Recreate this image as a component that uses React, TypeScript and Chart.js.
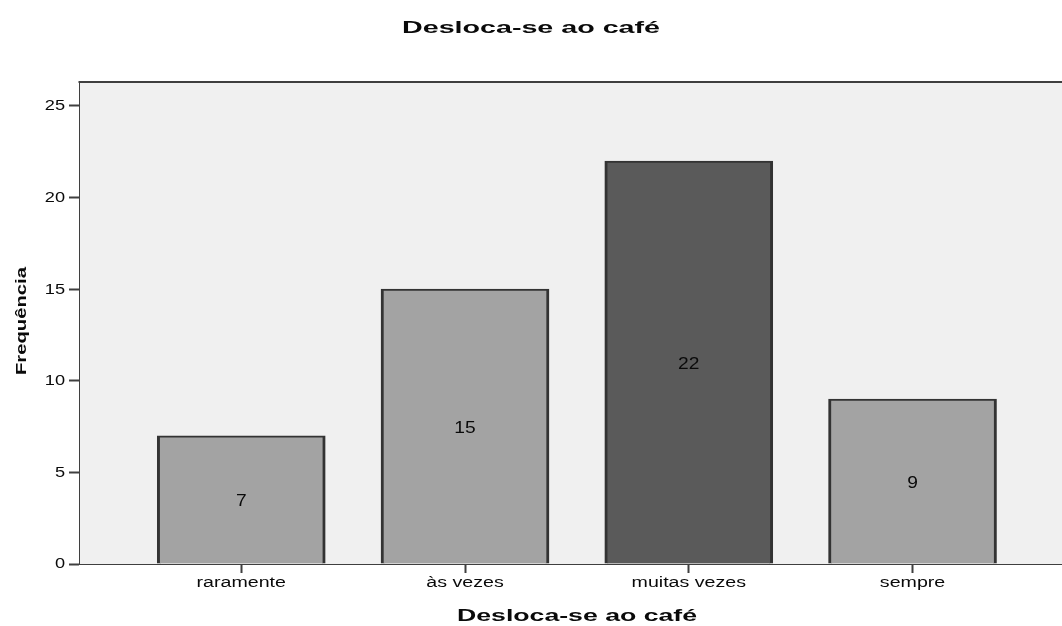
import React, { useEffect, useRef } from "react";
import { Chart, registerables } from "chart.js";

Chart.register(...registerables);

// Frequency table: "Desloca-se ao café"
const categories = ["raramente", "às vezes", "muitas vezes", "sempre"];
const frequencies = [7, 15, 22, 9];
const barShades = ["#a3a3a3", "#a3a3a3", "#5a5a5a", "#a3a3a3"];
const yTickValues = [0, 5, 10, 15, 20, 25];

const chartTitle = "Desloca-se ao café";
const xAxisTitle = "Desloca-se ao café";
const yAxisTitle = "Frequência";

const FONT = '"Liberation Sans", Arial, sans-serif';
const INK = "#0a0a0a";
const LINE = "#3f3f3f";

type Align = "left" | "right" | "center";
type Baseline = "alphabetic" | "middle" | "top" | "bottom";

// Draws text with an independent horizontal / vertical scale (wide type face look)
function drawText(
  ctx: CanvasRenderingContext2D,
  text: string,
  x: number,
  y: number,
  font: string,
  sx: number,
  sy: number,
  align: Align,
  baseline: Baseline,
  rotation = 0
) {
  ctx.save();
  ctx.translate(x, y);
  if (rotation) ctx.rotate(rotation);
  ctx.scale(sx, sy);
  ctx.font = font;
  ctx.fillStyle = INK;
  ctx.textAlign = align;
  ctx.textBaseline = baseline;
  ctx.fillText(text, 0, 0);
  ctx.restore();
}

function fitScale(ctx: CanvasRenderingContext2D, text: string, font: string, width: number) {
  ctx.save();
  ctx.font = font;
  const w = ctx.measureText(text).width;
  ctx.restore();
  return w > 0 ? width / w : 1;
}

const textPlugin = {
  id: "spssText",
  afterDraw(chart: any) {
    const ctx: CanvasRenderingContext2D = chart.ctx;
    const x = chart.scales.x;
    const y = chart.scales.y;
    const area = chart.chartArea;

    // frame line along the top of the plot
    ctx.save();
    ctx.strokeStyle = LINE;
    ctx.lineWidth = 2;
    ctx.beginPath();
    ctx.moveTo(area.left - 1.5, area.top);
    ctx.lineTo(area.right, area.top);
    ctx.stroke();
    ctx.restore();

    // chart title
    const tFont = `bold 16px ${FONT}`;
    drawText(ctx, chartTitle, 531, 32.5, tFont, fitScale(ctx, chartTitle, tFont, 258), 1, "center", "alphabetic");

    // x axis title
    drawText(ctx, xAxisTitle, 577, 621, tFont, fitScale(ctx, xAxisTitle, tFont, 240), 1, "center", "alphabetic");

    // y axis title, rotated
    const yFont = `bold 15px ${FONT}`;
    drawText(ctx, yAxisTitle, 26, 321, yFont, fitScale(ctx, yAxisTitle, yFont, 108), 1, "center", "alphabetic", -Math.PI / 2);

    // category labels
    categories.forEach((c, i) => {
      drawText(ctx, c, x.getPixelForValue(i), 587, `14px ${FONT}`, 1.4, 1, "center", "alphabetic");
    });

    // value ticks
    yTickValues.forEach((v) => {
      drawText(ctx, String(v), 65, y.getPixelForValue(v) + 0.5, `14px ${FONT}`, 1.3, 1, "right", "middle");
    });

    // bar values, centred in each bar
    frequencies.forEach((v, i) => {
      const mid = (y.getPixelForValue(v) + y.getPixelForValue(0)) / 2;
      drawText(ctx, String(v), x.getPixelForValue(i), mid + 2, `16px ${FONT}`, 1.2, 1, "center", "middle");
    });
  },
};

const plotBackground = {
  id: "plotBackground",
  beforeDatasetsDraw(chart: any) {
    const { ctx, chartArea } = chart;
    ctx.save();
    ctx.fillStyle = "#f0f0f0";
    ctx.fillRect(chartArea.left, chartArea.top, chartArea.right - chartArea.left, chartArea.bottom - chartArea.top);
    ctx.restore();
  },
};

export default function App() {
  const canvasRef = useRef<HTMLCanvasElement | null>(null);

  useEffect(() => {
    if (!canvasRef.current) return;
    const chart = new Chart(canvasRef.current, {
      type: "bar",
      data: {
        datasets: [
          {
            data: frequencies.map((v, i) => ({ x: i, y: v })),
            backgroundColor: barShades,
            borderColor: "#333333",
            borderWidth: { left: 3, right: 3, top: 2, bottom: 0 },
            borderSkipped: "start",
            barThickness: 168,
          },
        ],
      },
      options: {
        responsive: false,
        animation: false,
        devicePixelRatio: 1,
        layout: { padding: { top: 82, left: 0, right: 0, bottom: 0 } },
        plugins: {
          legend: { display: false },
          tooltip: { enabled: false },
          title: { display: false },
        },
        scales: {
          x: {
            type: "linear",
            offset: false,
            min: -0.7207,
            max: 3.668,
            z: 1,
            afterBuildTicks: (scale: any) => {
              scale.ticks = categories.map((_, i) => ({ value: i }));
            },
            afterFit: (scale: any) => {
              scale.height = 62;
            },
            ticks: { display: false },
            grid: {
              display: true,
              offset: false,
              drawOnChartArea: false,
              drawTicks: true,
              tickLength: 9,
              tickWidth: 2,
              tickColor: LINE,
            },
            border: { display: true, color: LINE, width: 2 },
          },
          y: {
            type: "linear",
            min: 0,
            max: 26.31,
            z: 1,
            afterBuildTicks: (scale: any) => {
              scale.ticks = yTickValues.map((v) => ({ value: v }));
            },
            afterFit: (scale: any) => {
              scale.width = 80;
            },
            ticks: { display: false },
            grid: {
              display: true,
              drawOnChartArea: false,
              drawTicks: true,
              tickLength: 11,
              tickWidth: 2,
              tickColor: LINE,
            },
            border: { display: true, color: LINE, width: 3 },
          },
        },
      } as any,
      plugins: [plotBackground, textPlugin],
    });
    return () => chart.destroy();
  }, []);

  return (
    <div style={{ position: "absolute", left: 0, top: 0, width: 1062, height: 626, background: "#ffffff" }}>
      <canvas ref={canvasRef} width={1062} height={626} />
    </div>
  );
}
